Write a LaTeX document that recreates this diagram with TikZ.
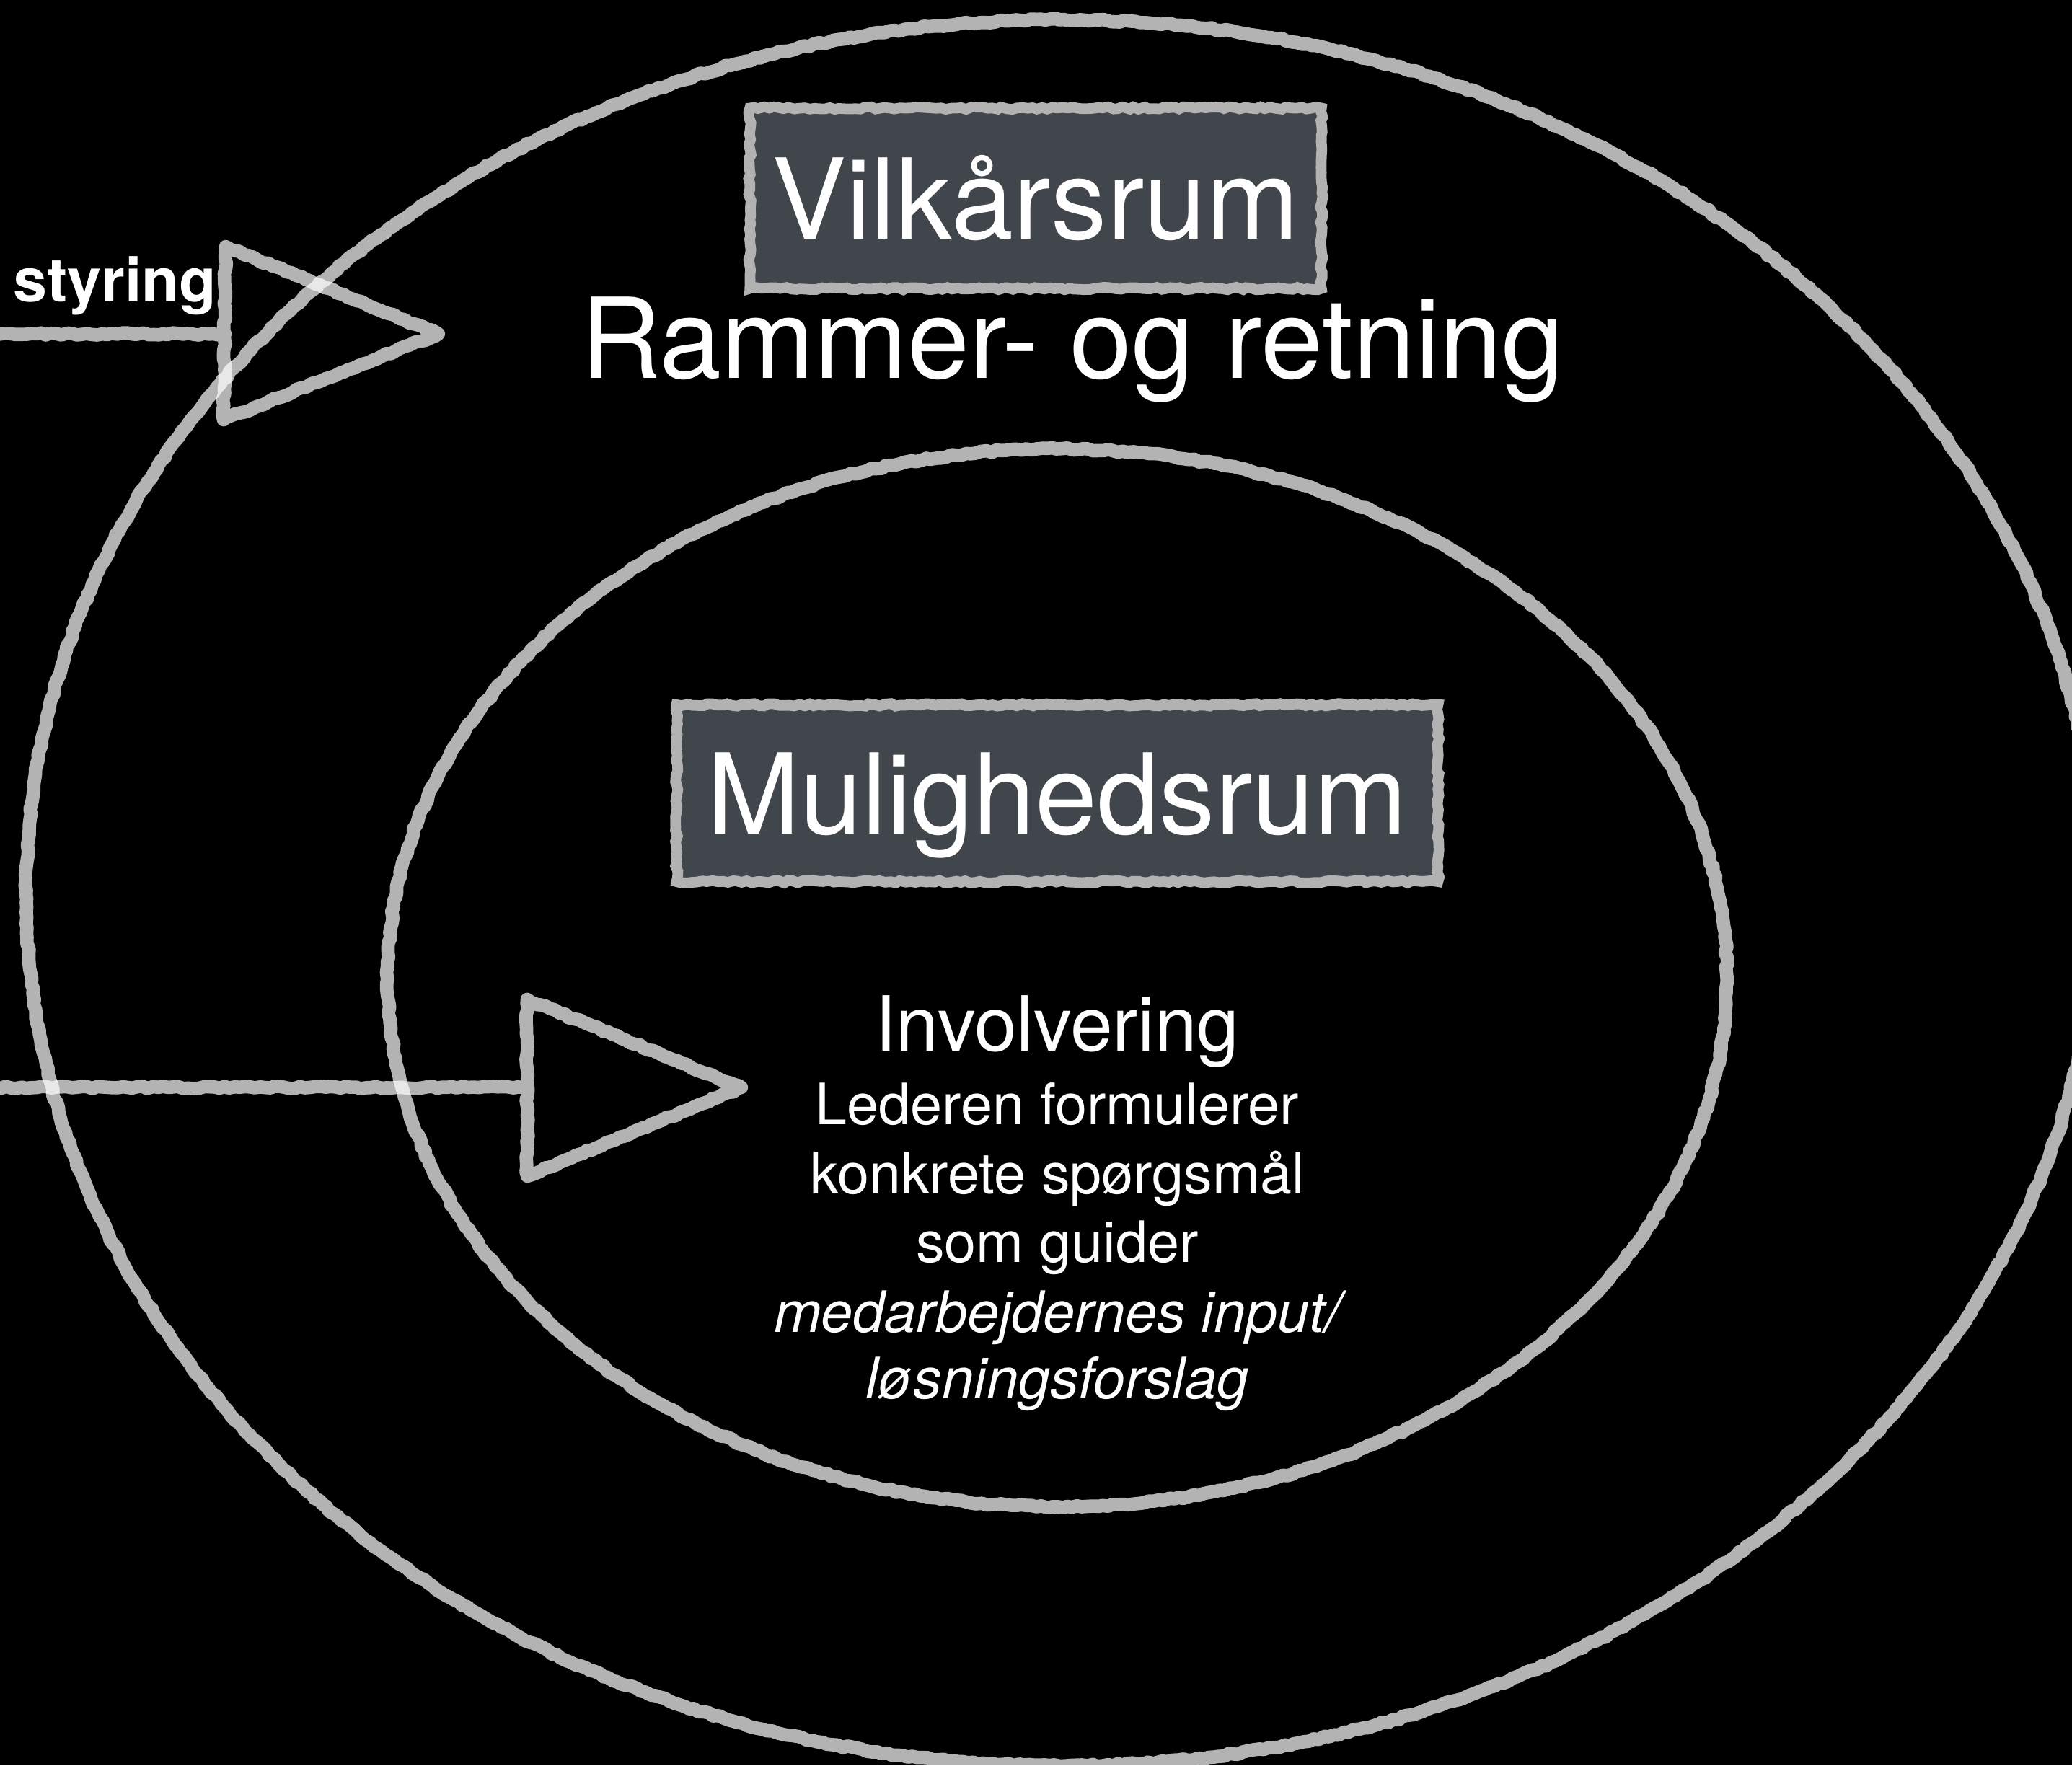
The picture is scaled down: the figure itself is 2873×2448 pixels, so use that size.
\documentclass[tikz,border=0pt]{standalone}
\usepackage{fontspec}
\setmainfont{TeX Gyre Heros}
\usetikzlibrary{shapes.geometric,decorations.pathmorphing}
\definecolor{boxfill}{RGB}{65,69,76}
\definecolor{chalkgray}{RGB}{178,178,178}
\begin{document}
\pgfmathsetseed{7}
\begin{tikzpicture}[x=0.01cm,y=-0.01cm,
  chalk/.style={draw=white, draw opacity=0.7, line width=5.3pt, line join=round, line cap=round,
    decorate, decoration={random steps, segment length=2pt, amplitude=0.45pt}},
  ring/.style={ellipse, chalk, inner sep=0pt, outer sep=0pt},
  titlebox/.style={rectangle, draw=chalkgray, line width=4.2pt, fill=boxfill, inner sep=0pt,
    text=white, font=\fontsize{44}{50}\selectfont, text height=1.12cm, text depth=0pt,
    decorate, decoration={random steps, segment length=2pt, amplitude=0.5pt}},
  lbl/.style={text=white, inner sep=0pt, anchor=base},
  bigtext/.style={font=\fontsize{44}{50}\selectfont},
  midtext/.style={font=\fontsize{30}{36}\selectfont},
  smalltext/.style={font=\fontsize{22.5}{27}\selectfont},
  smallit/.style={font=\fontsize{22.5}{27}\selectfont\itshape}
]
\useasboundingbox (0,0) rectangle (2873,2448);
\fill[black] (0,0) rectangle (2873,2448);

% ellipses
\node[ring, minimum width=28.70cm, minimum height=24.20cm] (vilkar) at (1472,1238) {};
\node[ring, minimum width=18.56cm, minimum height=14.66cm] (mulig) at (1466,1356) {};

% title boxes
\node[titlebox, minimum width=7.92cm, minimum height=2.50cm] (vbox) at (1436,275) {Vilkårsrum};
\node[lbl, bigtext] (ramme) at (1487,524) {Rammer- og retning};
\node[titlebox, minimum width=10.55cm, minimum height=2.45cm] (mbox) at (1466,1100) {Mulighedsrum};

% inner texts
\node[lbl, midtext] (invol) at (1466,1457) {Involvering};
\node[lbl, smalltext] (l1) at (1466,1559) {Lederen formulerer};
\node[lbl, smalltext] (l2) at (1466,1655) {konkrete spørgsmål};
\node[lbl, smalltext] (l3) at (1466,1750) {som guider};
\node[lbl, smallit] (l4) at (1466,1847) {medarbejdernes input/};
\node[lbl, smallit] (l5) at (1466,1939) {løsningsforslag};

% styring label
\node[lbl, anchor=base west, font=\bfseries\fontsize{24}{28}\selectfont] (styr) at (18,418) {styring};

% top arrow
\coordinate (s1) at (-20,463);
\coordinate (t1a) at (313,342);
\coordinate (t1p) at (608,463);
\coordinate (t1c) at (310,582);
\coordinate (t1b) at (312,463);
\draw[chalk] (s1) -- (t1b) (t1a) -- (t1p) -- (t1c) -- cycle;

% bottom arrow
\coordinate (s2) at (-20,1508);
\coordinate (t2a) at (731,1386);
\coordinate (t2p) at (1028,1508);
\coordinate (t2c) at (731,1631);
\coordinate (t2b) at (731,1508);
\draw[chalk] (s2) -- (t2b) (t2a) -- (t2p) -- (t2c) -- cycle;
\end{tikzpicture}
\end{document}
